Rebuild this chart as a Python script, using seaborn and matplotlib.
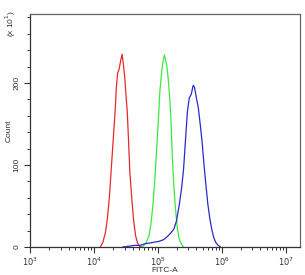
import numpy as np
import pandas as pd
import seaborn as sns
import matplotlib
matplotlib.use('Agg')
import matplotlib.pyplot as plt
from matplotlib.ticker import LogLocator, MultipleLocator, NullFormatter, FixedLocator

# histogram values (log10 of FITC-A, count / 10)
red_log = [4.10, 4.14, 4.18, 4.21, 4.24, 4.27, 4.30, 4.33, 4.35, 4.37, 4.39, 4.42, 4.44, 4.46, 4.48, 4.50, 4.52, 4.54, 4.56, 4.59, 4.62, 4.65, 4.68, 4.71, 4.74]
red_cnt = [0, 6, 18, 35, 60, 95, 130, 165, 195, 212, 216, 228, 235, 222, 208, 185, 165, 130, 92, 60, 32, 14, 5, 1, 0]

green_log = [4.74, 4.78, 4.82, 4.86, 4.89, 4.92, 4.95, 4.98, 5.01, 5.03, 5.06, 5.08, 5.10, 5.12, 5.14, 5.16, 5.18, 5.20, 5.22, 5.24, 5.27, 5.30, 5.33, 5.37, 5.40]
green_cnt = [0, 2, 6, 14, 28, 50, 80, 120, 160, 190, 215, 226, 234, 228, 220, 205, 185, 160, 120, 85, 50, 25, 10, 3, 0]

blue_log = [4.45, 4.55, 4.64, 4.72, 4.80, 4.88, 4.95, 5.02, 5.09, 5.15, 5.20, 5.25, 5.29, 5.33, 5.37, 5.40, 5.43, 5.46, 5.49, 5.52, 5.55, 5.57, 5.60, 5.63, 5.66, 5.69, 5.72, 5.75, 5.78, 5.81, 5.84, 5.87, 5.90, 5.94, 5.98]
blue_cnt = [0, 1, 2, 2, 4, 5, 6, 7, 9, 13, 17, 22, 32, 50, 72, 95, 130, 165, 182, 186, 197, 195, 182, 170, 150, 128, 100, 75, 52, 35, 22, 12, 6, 2, 0]

colors = {'red': '#e52a2a', 'green': '#3de83d', 'blue': '#2a2ac8'}

frames = []
for name, lx, cn in [('red', red_log, red_cnt), ('green', green_log, green_cnt), ('blue', blue_log, blue_cnt)]:
    frames.append(pd.DataFrame({'fitc': 10 ** np.array(lx), 'count': cn, 'sample': name}))
df = pd.concat(frames, ignore_index=True)

sns.set_style('white')
plt.rcParams['font.family'] = ['Liberation Sans', 'DejaVu Sans']

fig = plt.figure(figsize=(3.05, 2.75), dpi=100)
ax = fig.add_axes([30 / 305, 1 - 247 / 275, 270 / 305, 233 / 275])

for name in ['red', 'green', 'blue']:
    sns.lineplot(data=df[df['sample'] == name], x='fitc', y='count', color=colors[name],
                 lw=0.9, sort=False, estimator=None, ax=ax, legend=False)

ax.set_xscale('log')
ax.set_xlim(1e3, 10 ** 7.22)
ax.set_ylim(0, 284)

ax.xaxis.set_major_locator(FixedLocator([1e3, 1e4, 1e5, 1e6, 1e7]))
ax.set_xticklabels([r'$10^3$', r'$10^4$', r'$10^5$', r'$10^6$', r'$10^7$'])
ax.xaxis.set_minor_locator(LogLocator(base=10, subs=np.arange(2, 10), numticks=20))
ax.xaxis.set_minor_formatter(NullFormatter())

ax.yaxis.set_major_locator(FixedLocator([0, 100, 200]))
ax.yaxis.set_minor_locator(MultipleLocator(20))
for lab in ax.get_yticklabels():
    lab.set_rotation(90)
    lab.set_va('center')

ax.tick_params(axis='both', which='major', direction='out', length=4, width=0.8,
               color='#333333', labelsize=6, labelcolor='#333333', pad=2)
ax.tick_params(axis='y', which='major', pad=3)
ax.tick_params(axis='both', which='minor', direction='out', length=2.5, width=0.7, color='#333333')
ax.tick_params(axis='x', bottom=True, which='both')
ax.tick_params(axis='y', left=True, which='both')

for s in ax.spines.values():
    s.set_color('#666666')
    s.set_linewidth(0.9)
ax.spines['bottom'].set_color('#333333')
ax.spines['left'].set_color('#333333')

ax.set_xlabel('FITC-A', fontsize=6, color='#333333')
ax.xaxis.set_label_coords(0.5, (247 - 271) / 233)
ax.xaxis.label.set_va('center')
ax.set_ylabel('Count', fontsize=6, color='#333333')
ax.yaxis.set_label_coords((9 - 30) / 270, 0.5)
ax.yaxis.label.set_va('center')
fig.text(11 / 305, 1 - 24 / 275, r'(x 10$^1$)', rotation=90, fontsize=6, color='#333333',
         ha='center', va='center')

fig.savefig('out.png', dpi=100)
